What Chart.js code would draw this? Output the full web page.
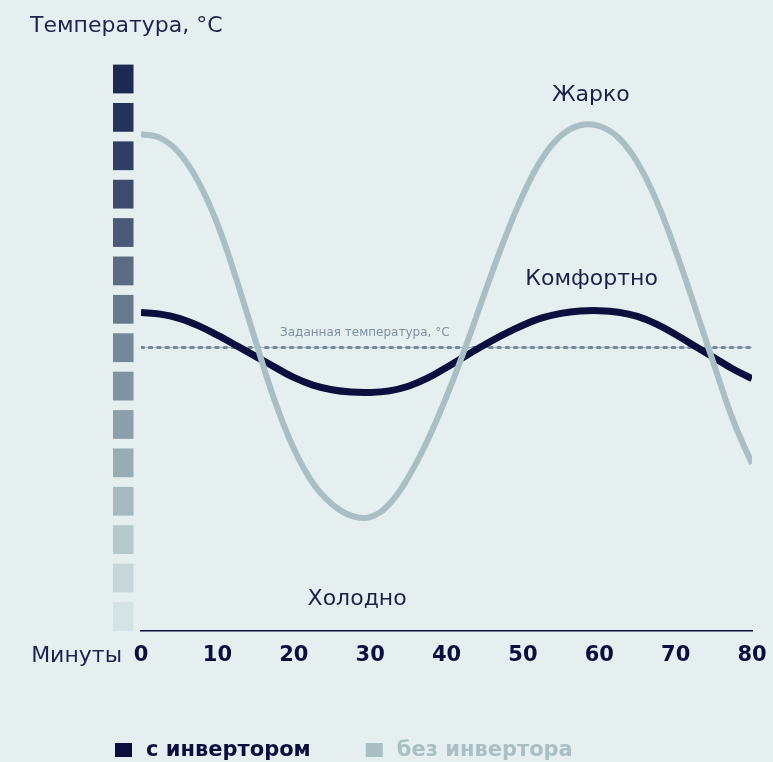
<!DOCTYPE html>
<html>
<head>
<meta charset="utf-8">
<script src="https://cdn.jsdelivr.net/npm/chart.js@4.4.0/dist/chart.umd.min.js"></script>
<style>
  html, body { margin: 0; padding: 0; background: #e5eff0; }
  #wrap { width: 773px; height: 762px; }
</style>
</head>
<body>
<div id="wrap"><canvas id="tempChart" width="773" height="762"></canvas></div>
<script>
// minutes on the x axis, read every 2.5 min off the picture
const minutes = [0, 2.5, 5, 7.5, 10, 12.5, 15, 17.5, 20, 22.5, 25, 27.5, 30, 32.5, 35, 37.5,
  40, 42.5, 45, 47.5, 50, 52.5, 55, 57.5, 60, 62.5, 65, 67.5, 70, 72.5, 75, 77.5, 80];
const withInverter = [8.29, 8.25, 8.14, 7.95, 7.70, 7.43, 7.15, 6.87, 6.60, 6.40, 6.28, 6.22, 6.21, 6.25, 6.37, 6.58,
  6.86, 7.16, 7.45, 7.72, 7.96, 8.15, 8.27, 8.33, 8.34, 8.30, 8.19, 7.99, 7.72, 7.42, 7.12, 6.82, 6.57];
const withoutInverter = [12.94, 12.84, 12.45, 11.70, 10.60, 9.15, 7.55, 6.00, 4.75, 3.85, 3.30, 3.00, 2.96, 3.30, 4.00, 4.95,
  6.10, 7.40, 8.80, 10.15, 11.35, 12.30, 12.90, 13.17, 13.15, 12.85, 12.20, 11.20, 9.90, 8.45, 6.95, 5.50, 4.35];
const setpointX = [0, 80];
const setpoint = [7.38, 7.38];
const xTicks = [0, 10, 20, 30, 40, 50, 60, 70, 80];
const scaleSteps = [0, 1, 2, 3, 4, 5, 6, 7, 8, 9, 10, 11, 12, 13, 14];
const scaleColors = ['#d5e3e5', '#c7d7d9', '#b6c8cb', '#a6b9be', '#98acb3', '#8ba0aa', '#7f94a0', '#738899',
  '#677a8d', '#5a6b82', '#4b5b77', '#3d4c6c', '#2f3e62', '#25345a', '#1c2a52'];
const seriesNames = ['с инвертором', 'без инвертора'];

const NAVY = '#0a0f3d';
const GRAY = '#a9bfc3';
const FONT = '"DejaVu Sans", sans-serif';

function toPoints(xs, ys) {
  return xs.map((x, i) => ({ x: x, y: ys[i] }));
}

const decorPlugin = {
  id: 'decor',
  beforeDatasetsDraw(chart) {
    const ctx = chart.ctx;
    const y = chart.scales.y;
    const left = chart.chartArea.left;
    ctx.save();
    scaleSteps.forEach((k, i) => {
      const top = y.getPixelForValue(k + 0.75);
      const bottom = y.getPixelForValue(k);
      ctx.fillStyle = scaleColors[i];
      ctx.fillRect(left - 28, top, 20.5, bottom - top);
    });
    ctx.restore();
  },
  afterDraw(chart) {
    const ctx = chart.ctx;
    const xs = chart.scales.x;
    const ys = chart.scales.y;
    ctx.save();
    ctx.textBaseline = 'middle';

    // title
    ctx.fillStyle = '#1d2450';
    ctx.font = '400 22px ' + FONT;
    ctx.textAlign = 'left';
    ctx.fillText('Температура, °C', 30, 26);

    // axis name next to ticks
    ctx.textAlign = 'right';
    ctx.fillText('Минуты', 122, xs.top + 25);

    // curve captions
    ctx.textAlign = 'center';
    ctx.fillStyle = '#1a2249';
    ctx.fillText('Жарко', xs.getPixelForValue(58.9), ys.getPixelForValue(13.95));
    ctx.fillText('Комфортно', xs.getPixelForValue(59.0), ys.getPixelForValue(9.17));
    ctx.fillText('Холодно', xs.getPixelForValue(28.3), ys.getPixelForValue(0.83));

    ctx.fillStyle = '#7d91a1';
    ctx.font = '400 12px ' + FONT;
    ctx.fillText('Заданная температура, °C', xs.getPixelForValue(29.3), ys.getPixelForValue(7.77));

    // legend
    let lx = 115;
    const ly = 750;
    ctx.font = '700 21px ' + FONT;
    ctx.textAlign = 'left';
    chart.data.datasets.slice(0, 2).forEach((ds, i) => {
      ctx.fillStyle = ds.borderColor;
      ctx.fillRect(lx, ly - 7, 17, 14);
      ctx.fillText(seriesNames[i], lx + 31, ly + 1);
      lx += 31 + ctx.measureText(seriesNames[i]).width + 55;
    });
    ctx.restore();
  }
};

const ctx = document.getElementById('tempChart').getContext('2d');
new Chart(ctx, {
  type: 'line',
  data: {
    datasets: [
      {
        label: seriesNames[0],
        data: toPoints(minutes, withInverter),
        borderColor: NAVY,
        borderWidth: 7,
        pointRadius: 0,
        tension: 0.4,
        order: 2
      },
      {
        label: seriesNames[1],
        data: toPoints(minutes, withoutInverter),
        borderColor: GRAY,
        borderWidth: 6,
        pointRadius: 0,
        tension: 0.4,
        order: 1
      },
      {
        label: 'line',
        data: toPoints(setpointX, setpoint),
        borderColor: '#a3b2bc',
        borderWidth: 1.2,
        pointRadius: 0,
        order: 4
      },
      {
        label: 'dots',
        data: toPoints(setpointX, setpoint),
        borderColor: '#74889a',
        borderWidth: 3,
        borderDash: [2.5, 5.8],
        borderCapStyle: 'round',
        pointRadius: 0,
        order: 3
      }
    ]
  },
  options: {
    responsive: false,
    animation: false,
    layout: { autoPadding: false, padding: { left: 141, right: 21, top: 55, bottom: 82 } },
    plugins: {
      legend: { display: false },
      tooltip: { enabled: false }
    },
    scales: {
      x: {
        type: 'linear',
        min: 0,
        max: 80,
        afterBuildTicks: (axis) => { axis.ticks = xTicks.map(v => ({ value: v })); },
        afterFit: (axis) => { axis.paddingLeft = 0; axis.paddingRight = 0; },
        grid: { display: false, drawTicks: false },
        border: { display: true, color: NAVY, width: 1.5 },
        ticks: {
          color: NAVY,
          padding: 12,
          font: { family: FONT, size: 21, weight: '700' }
        }
      },
      y: {
        display: false,
        min: 0,
        max: 15
      }
    }
  },
  plugins: [decorPlugin]
});
</script>
</body>
</html>
